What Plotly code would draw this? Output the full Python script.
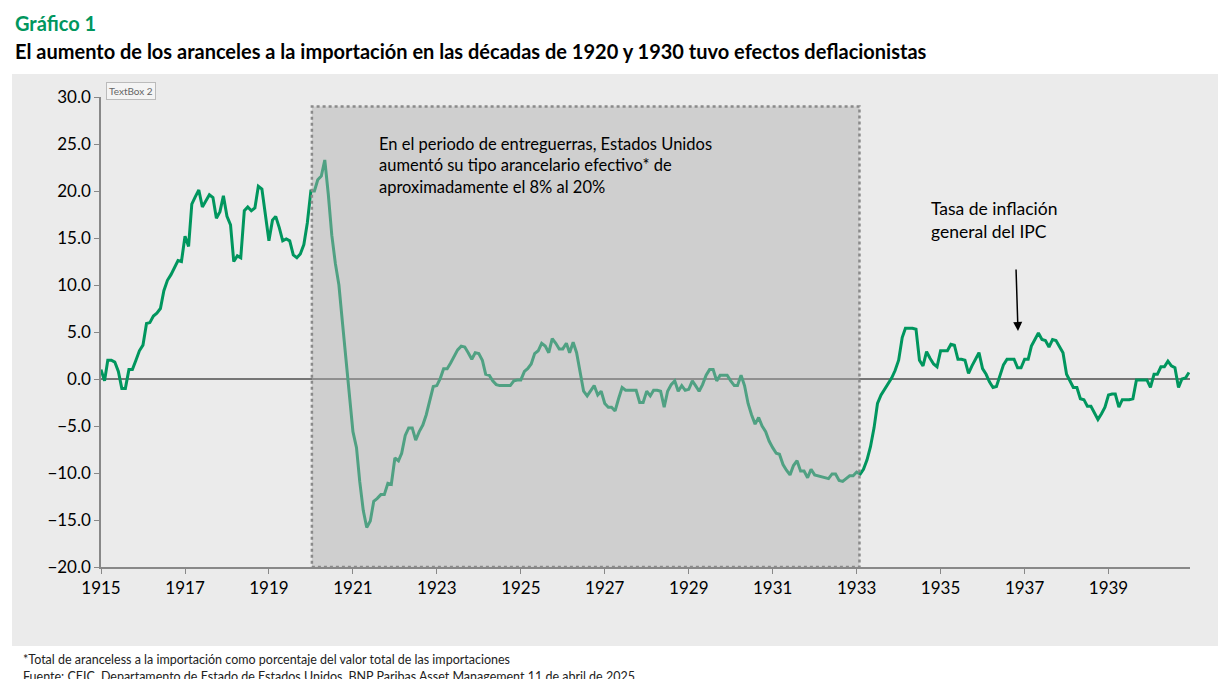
import plotly.graph_objects as go

years = list(range(1915, 1941))
cpi_by_year = {
    1915: [1.0, -0.2, 2.0, 2.0, 1.8, 0.8, -1.0, -1.0, 1.0, 1.0, 2.0, 3.0],
    1916: [3.6, 5.9, 6.0, 6.7, 7.0, 7.5, 9.4, 10.5, 11.1, 11.8, 12.6, 12.5],
    1917: [15.2, 14.1, 18.6, 19.4, 20.1, 18.3, 18.9, 19.6, 19.3, 17.1, 17.8, 19.5],
    1918: [17.3, 16.4, 12.5, 13.1, 12.9, 17.9, 18.3, 17.9, 18.2, 20.5, 20.2, 17.4],
    1919: [14.7, 16.9, 17.3, 16.1, 14.7, 14.9, 14.7, 13.2, 12.9, 13.3, 14.3, 16.6],
    1920: [20.0, 20.0, 21.2, 21.6, 23.3, 19.6, 15.3, 12.3, 10.0, 6.1, 1.9, -1.7],
    1921: [-5.6, -7.3, -10.9, -14.0, -15.8, -15.1, -13.0, -12.7, -12.3, -12.3, -11.1, -11.2],
    1922: [-8.4, -8.7, -7.9, -6.0, -5.2, -5.2, -6.5, -5.6, -4.9, -3.8, -2.4, -0.8],
    1923: [-0.7, 0.1, 1.1, 1.1, 1.7, 2.4, 3.1, 3.5, 3.4, 2.8, 2.1, 2.8],
    1924: [2.7, 2.0, 0.5, 0.4, -0.2, -0.6, -0.7, -0.7, -0.7, -0.7, -0.2, -0.1],
    1925: [-0.1, 0.8, 1.1, 1.6, 2.7, 3.0, 3.8, 3.5, 2.8, 4.3, 3.8, 3.2],
    1926: [3.2, 3.8, 2.8, 3.9, 2.8, 0.9, -1.3, -1.8, -1.3, -0.7, -1.7, -1.3],
    1927: [-2.6, -3.0, -3.0, -3.4, -2.1, -0.9, -1.2, -1.2, -1.2, -1.2, -2.5, -2.5],
    1928: [-1.3, -1.8, -1.2, -1.2, -1.3, -3.0, -1.3, -0.6, -0.2, -1.3, -0.7, -1.2],
    1929: [-1.1, -0.2, -0.7, -1.3, -0.6, 0.4, 1.0, 1.0, -0.2, 0.4, 0.4, 0.4],
    1930: [-0.2, -0.7, -0.7, 0.4, -0.7, -2.6, -3.8, -4.8, -4.1, -5.0, -5.6, -6.6],
    1931: [-7.3, -7.9, -8.0, -9.1, -9.7, -10.2, -9.2, -8.7, -9.8, -9.8, -10.5, -9.6],
    1932: [-10.2, -10.3, -10.4, -10.5, -10.6, -10.1, -10.1, -10.8, -10.9, -10.6, -10.3, -10.3],
    1933: [-9.9, -10.1, -9.6, -8.6, -7.2, -5.2, -2.6, -1.7, -1.1, -0.5, 0.1, 0.9],
    1934: [2.0, 4.4, 5.4, 5.4, 5.4, 5.3, 2.0, 1.4, 2.9, 2.2, 1.6, 1.3],
    1935: [3.0, 3.0, 3.0, 3.7, 3.6, 2.1, 2.1, 2.0, 0.6, 1.4, 2.1, 2.8],
    1936: [1.1, 0.5, -0.3, -0.9, -0.8, 0.5, 1.5, 2.1, 2.1, 2.1, 1.2, 1.2],
    1937: [2.1, 2.1, 3.5, 4.2, 4.9, 4.2, 4.1, 3.4, 4.2, 4.1, 3.4, 2.8],
    1938: [0.5, -0.3, -0.9, -0.9, -2.1, -2.2, -2.9, -2.9, -3.6, -4.3, -3.7, -3.0],
    1939: [-1.7, -1.6, -1.6, -3.0, -2.2, -2.2, -2.2, -2.1, -0.1, -0.1, -0.1, -0.1],
    1940: [-0.9, 0.5, 0.5, 1.3, 1.3, 1.9, 1.4, 1.2, -0.9, 0.0, 0.1, 0.7],
}
tick_years = list(range(1915, 1941, 2))
y_ticks = [30, 25, 20, 15, 10, 5, 0, -5, -10, -15, -20]

dates, values = [], []
for yr in years:
    for mo, v in enumerate(cpi_by_year[yr], start=1):
        dates.append(f"{yr}-{mo:02d}-01")
        values.append(v)

# pixel -> paper helpers (plot area: x 93..1182, y 89..559)
L, R, T, B = 93, 1182, 89, 559
def px(x): return (x - L) / (R - L)
def py(y): return (B - y) / (B - T)

fig = go.Figure()
fig.add_trace(go.Scatter(x=dates, y=values, mode="lines",
                         line=dict(color="#00965e", width=3), hoverinfo="skip"))

shapes = [
    dict(type="rect", xref="paper", yref="paper", x0=px(4), x1=px(1224), y0=py(638), y1=py(66),
         fillcolor="#ebebeb", line=dict(width=0), layer="below"),
    dict(type="line", xref="paper", yref="y", x0=0, x1=1, y0=0, y1=0,
         line=dict(color="black", width=1), layer="below"),
    dict(type="rect", xref="x", yref="y", x0="1920-01-10", x1="1933-01-25", y0=-20, y1=29.0,
         fillcolor="rgba(174,174,174,0.46)", line=dict(color="#8a8a8a", width=2.5, dash="dot"),
         layer="above"),
]

font = "Lato, 'Open Sans', sans-serif"
ann = [
    dict(xref="paper", yref="paper", x=px(5), y=py(15), text="<b>Gráfico 1</b>", showarrow=False,
         xanchor="left", yanchor="middle", font=dict(size=20, color="#00965e", family=font)),
    dict(xref="paper", yref="paper", x=px(5), y=py(43),
         text="<b>El aumento de los aranceles a la importación en las décadas de 1920 y 1930 tuvo efectos deflacionistas</b>",
         showarrow=False, xanchor="left", yanchor="middle", font=dict(size=20, color="black", family=font)),
    dict(xref="paper", yref="paper", x=px(13), y=py(651),
         text="*Total de aranceless a la importación como porcentaje del valor total de las importaciones",
         showarrow=False, xanchor="left", yanchor="middle", font=dict(size=12.5, color="#222", family=font)),
    dict(xref="paper", yref="paper", x=px(13), y=py(668),
         text="Fuente: CEIC, Departamento de Estado de Estados Unidos, BNP Paribas Asset Management 11 de abril de 2025.",
         showarrow=False, xanchor="left", yanchor="middle", font=dict(size=12.5, color="#222", family=font)),
    dict(xref="paper", yref="paper", x=px(98), y=py(83), text="TextBox 2", showarrow=False,
         xanchor="left", yanchor="middle", font=dict(size=10, color="#666", family=font),
         bgcolor="#f4f4f4", bordercolor="#bbb", borderwidth=1, borderpad=2),
    dict(xref="paper", yref="paper", x=px(369), y=py(124),
         text="En el periodo de entreguerras, Estados Unidos<br>aumentó su tipo arancelario efectivo* de<br>aproximadamente el 8% al 20%",
         showarrow=False, xanchor="left", yanchor="top", align="left",
         font=dict(size=16.5, color="black", family=font)),
    dict(xref="paper", yref="paper", x=px(921), y=py(188),
         text="Tasa de inflación<br>general del IPC", showarrow=False, xanchor="left", yanchor="top",
         align="left", font=dict(size=17.5, color="black", family=font)),
    dict(xref="paper", yref="paper", x=px(1010), y=py(323), ax=-2, ay=-63,
         axref="pixel", ayref="pixel", text="", showarrow=True, arrowhead=2, arrowsize=1.2,
         arrowwidth=1.5, arrowcolor="black"),
]

fig.update_layout(
    width=1226, height=679, paper_bgcolor="white", plot_bgcolor="rgba(0,0,0,0)",
    margin=dict(l=L, r=1226 - R, t=T, b=679 - B), showlegend=False,
    shapes=shapes, annotations=ann, font=dict(family=font),
    xaxis=dict(type="date", range=["1915-01-01", "1940-12-10"],
               tickvals=[f"{y}-01-01" for y in tick_years], ticktext=[str(y) for y in tick_years],
               showgrid=False, zeroline=False, showline=True, linecolor="#888", linewidth=1.5,
               ticks="outside", ticklen=5, tickcolor="#888",
               tickfont=dict(size=17, color="black", family=font)),
    yaxis=dict(range=[-20, 30], tickvals=y_ticks, tickformat=".1f", showgrid=False, zeroline=False,
               showline=True, linecolor="#888", linewidth=1.5, ticks="outside", ticklen=5,
               tickcolor="#888", tickfont=dict(size=17, color="black", family=font)),
)
fig.write_html("out.html")
